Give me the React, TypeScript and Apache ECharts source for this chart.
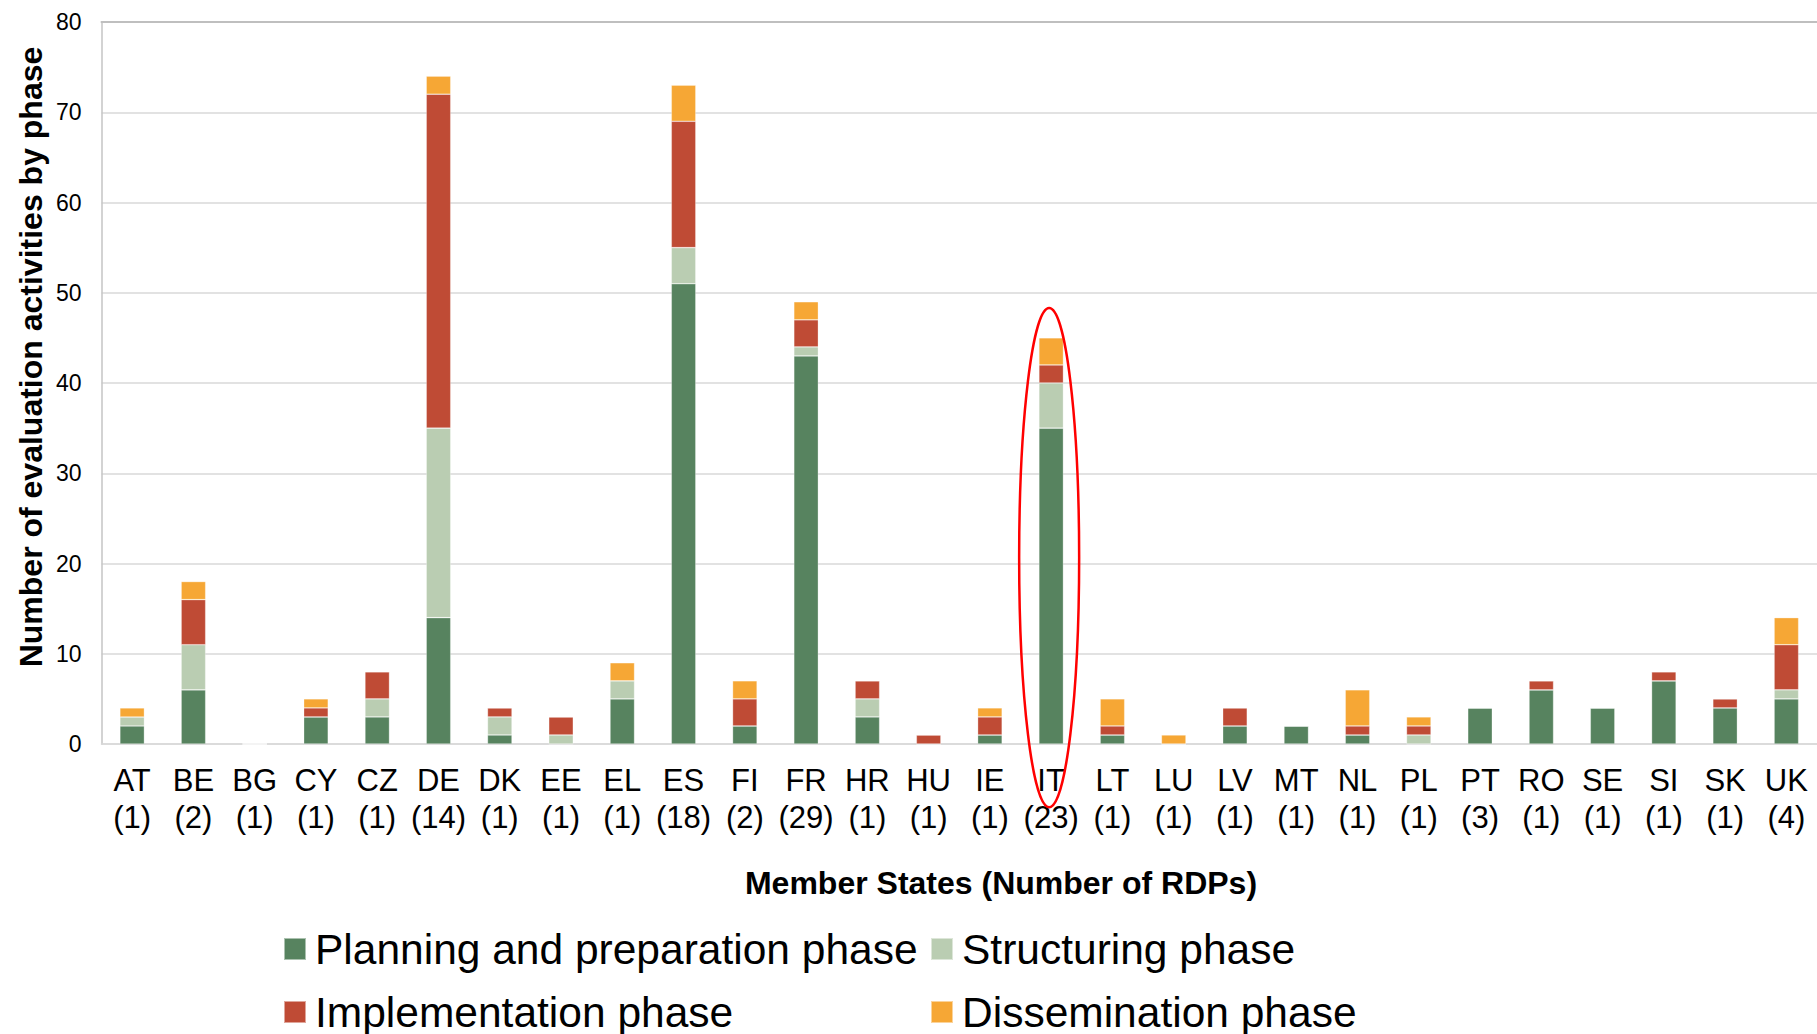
import React, { useEffect, useRef } from "react";
import * as echarts from "echarts";

const countries = ["AT","BE","BG","CY","CZ","DE","DK","EE","EL","ES","FI","FR","HR","HU","IE","IT","LT","LU","LV","MT","NL","PL","PT","RO","SE","SI","SK","UK"];
const rdpCounts = [1,2,1,1,1,14,1,1,1,18,2,29,1,1,1,23,1,1,1,1,1,1,3,1,1,1,1,4];

const planning =       [2,6,0,3,3,14,1,0,5,51,2,43,3,0,1,35,1,0,2,2,1,0,4,6,4,7,4,5];
const structuring =    [1,5,0,0,2,21,2,1,2,4,0,1,2,0,0,5,0,0,0,0,0,1,0,0,0,0,0,1];
const implementation = [0,5,0,1,3,37,1,2,0,14,3,3,2,1,2,2,1,0,2,0,1,1,0,1,0,1,1,5];
const dissemination =  [1,2,0,1,0,2,0,0,2,4,2,2,0,0,1,3,3,1,0,0,4,1,0,0,0,0,0,3];

const seriesNames = ["Planning and preparation phase","Structuring phase","Implementation phase","Dissemination phase"];
const seriesColors = ["#57835F","#BACDB2","#BF4B35","#F6A735"];

const yTicks = { min: 0, max: 80, interval: 10 };
const xTitle = "Member States (Number of RDPs)";
const yTitle = "Number of evaluation activities by phase";
const highlighted = { category: "IT", topValue: 48.3, bottomValue: -7 };

const FONT = "'Liberation Sans', Arial, Helvetica, sans-serif";

export default function App() {
  const ref = useRef<HTMLDivElement>(null);
  useEffect(() => {
    if (!ref.current) return;
    const chart = echarts.init(ref.current, null, { renderer: "svg" });
    const labels = countries.map((c, i) => `${c}\n(${rdpCounts[i]})`);
    const values = [planning, structuring, implementation, dissemination];
    const legendPos = [
      { left: 283, top: 927 },
      { left: 930, top: 927 },
      { left: 283, top: 990 },
      { left: 930, top: 990 },
    ];
    chart.setOption({
      animation: false,
      backgroundColor: "#ffffff",
      grid: { left: 101.5, top: 22, width: 1720, height: 722 },
      legend: seriesNames.map((n, i) => ({
        data: [n],
        left: legendPos[i].left,
        top: legendPos[i].top,
        padding: 0,
        itemWidth: 22,
        itemHeight: 22,
        icon: "rect",
        selectedMode: false,
        textStyle: { fontSize: 42.5, color: "#000", fontFamily: FONT, lineHeight: 44, padding: [0, 0, 0, 4] },
      })),
      xAxis: [
        {
          type: "category",
          data: labels,
          axisLine: { show: true, lineStyle: { color: "#d9d9d9", width: 1.5 } },
          axisTick: { show: false },
          axisLabel: { fontSize: 31, color: "#000", fontFamily: FONT, lineHeight: 37, margin: 18, interval: 0 },
        },
        {
          type: "category",
          data: labels,
          position: "top",
          axisLine: { show: true, lineStyle: { color: "#bfbfbf", width: 2 } },
          axisTick: { show: false },
          axisLabel: { show: false },
        },
      ],
      yAxis: {
        type: "value",
        min: yTicks.min,
        max: yTicks.max,
        interval: yTicks.interval,
        axisLine: { show: true, lineStyle: { color: "#c4c4c4", width: 1.5 } },
        axisTick: { show: false },
        axisLabel: { fontSize: 23, color: "#000", fontFamily: FONT, margin: 20 },
        splitLine: { lineStyle: { color: "#d9d9d9", width: 1.5 } },
      },
      series: seriesNames.map((n, i) => ({
        name: n,
        type: "bar",
        stack: "total",
        barWidth: "40%",
        data: values[i],
        itemStyle: { color: seriesColors[i], borderColor: "rgba(255,255,255,0.5)", borderWidth: 0.6 },
      })),
    });

    const idx = countries.indexOf(highlighted.category);
    const top = chart.convertToPixel({ gridIndex: 0 }, [idx, highlighted.topValue]) as number[];
    const bottom = chart.convertToPixel({ gridIndex: 0 }, [idx, highlighted.bottomValue]) as number[];
    const cx = top[0] - 2;
    const cy = (top[1] + bottom[1]) / 2;
    const ry = (bottom[1] - top[1]) / 2;

    chart.setOption({
      graphic: [
        {
          id: "ytitle",
          type: "text",
          x: 31,
          y: 357,
          rotation: Math.PI / 2,
          style: {
            text: yTitle,
            font: `bold 32px ${FONT}`,
            fill: "#000",
            textAlign: "center",
            textVerticalAlign: "middle",
          },
        },
        {
          id: "xtitle",
          type: "text",
          x: 1001,
          y: 883,
          style: {
            text: xTitle,
            font: `bold 32px ${FONT}`,
            fill: "#000",
            textAlign: "center",
            textVerticalAlign: "middle",
          },
        },
        {
          id: "highlight",
          type: "ellipse",
          shape: { cx, cy, rx: 30, ry },
          style: { fill: "none", stroke: "#ff0000", lineWidth: 2.5 },
          z: 100,
        },
      ],
    });

    return () => chart.dispose();
  }, []);
  return (
    <div
      ref={ref}
      style={{ position: "fixed", left: 0, top: 0, width: 1817, height: 1034, background: "#fff" }}
    />
  );
}
